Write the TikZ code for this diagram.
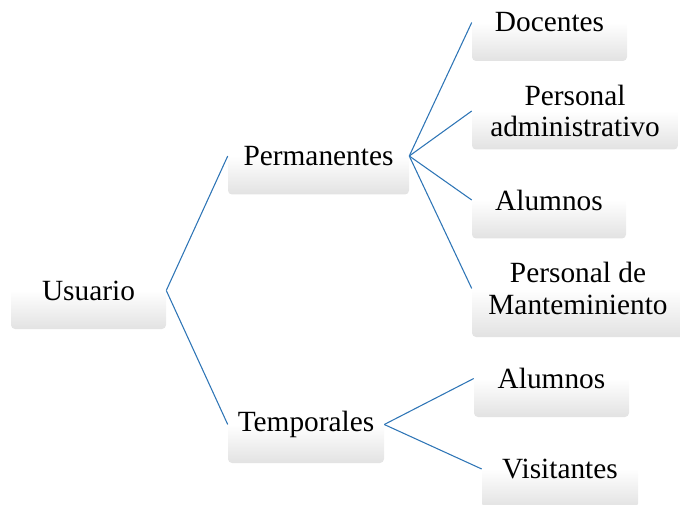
\documentclass[tikz,border=0pt]{standalone}
\usepackage{fontspec}
\setmainfont{Liberation Serif}
\newfontfamily\textocaja{Liberation Serif}
\usepackage{tikz}
\definecolor{rama}{RGB}{46,117,182}
\definecolor{gris}{RGB}{226,226,226}

\begin{document}
\begin{tikzpicture}[x=0.75pt,y=-0.75pt,
    caja/.style={rounded corners=3pt, top color=white, bottom color=gris, middle color=white,
      minimum height=57.75pt, inner sep=0pt, align=center, text=black,
      font=\textocaja\fontsize{22}{23.5}\selectfont},
    enlace/.style={draw=rama, line width=0.8pt}]
  \clip (0,0) rectangle (680,505);
  % raiz y primer nivel
  \node[caja,minimum width=116.25pt] (usuario) at (88.5,290.5) {Usuario};
  \node[caja,minimum width=135.75pt] (perm) at (318.5,156) {Permanentes};
  \node[caja,minimum width=117pt] (temp) at (306,424.5) {Temporales};
  % segundo nivel
  \node[caja,minimum width=116.25pt] (doc) at (549.5,22.5) {Docentes};
  \node[caja,minimum width=154.5pt] (adm) at (575,111) {Personal\\administrativo};
  \node[caja,minimum width=115.5pt] (alu1) at (549,200) {Alumnos};
  \node[caja,minimum width=159pt,minimum height=72.75pt] (mant) at (578,288.5) {Personal de\\Manteminiento};
  \node[caja,minimum width=116.25pt] (alu2) at (551.5,378.5) {Alumnos};
  \node[caja,minimum width=117pt] (vis) at (560,469) {Visitantes};
  % conectores
  \draw[enlace] (usuario.east) -- (perm.west);
  \draw[enlace] (usuario.east) -- (temp.west);
  \foreach \hijo in {doc,adm,alu1,mant} \draw[enlace] (perm.east) -- (\hijo.west);
  \foreach \hijo in {alu2,vis} \draw[enlace] (temp.east) -- (\hijo.west);
\end{tikzpicture}
\end{document}
